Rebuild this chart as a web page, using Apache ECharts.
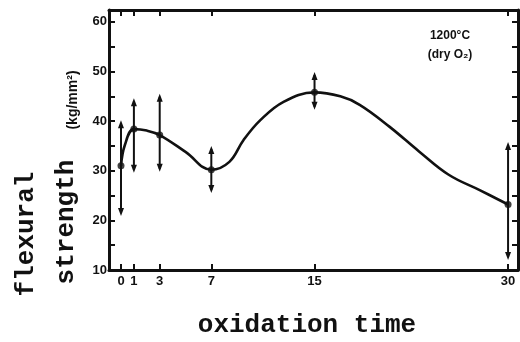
<!DOCTYPE html>
<html>
<head>
<meta charset="utf-8">
<script src="https://cdn.jsdelivr.net/npm/echarts@6/dist/echarts.min.js"></script>
<style>html,body{margin:0;padding:0;background:#fff;}#c{width:520px;height:342px;}</style>
</head>
<body>
<div id="c"></div>
<script>
// measured points (oxidation time, flexural strength kg/mm2)
const times = [0, 1, 3, 7, 15, 30];
const strength = [31.0, 38.4, 37.2, 30.2, 45.8, 23.2];
const errLow = [21.5, 30.2, 30.4, 26.1, 42.9, 12.6];
const errHigh = [39.6, 44.0, 44.9, 34.4, 49.3, 35.2];
// fitted curve as drawn
const curveX = [0, 0.3, 1, 2, 3, 5, 7, 8.4, 9.5, 10.8, 12.6, 15, 17.0, 18.5, 20.8, 23.1, 25.4, 27.8, 30];
const curveY = [31.0, 35.2, 38.4, 38.1, 37.2, 33.8, 30.2, 31.8, 36.2, 40.2, 43.9, 45.8, 45.0, 43.3, 38.9, 33.9, 29.2, 26.1, 23.2];
// tick labels
const xTicks = [0, 1, 3, 7, 15, 30];
const yTicks = [10, 20, 30, 40, 50, 60];

const ink = '#111';
const chart = echarts.init(document.getElementById('c'));
const xBase = {
  type: 'value', min: -0.93, max: 30.77,
  axisLine: {show: true, onZero: false, lineStyle: {color: ink, width: 3}},
  axisTick: {show: true, inside: true, length: 6, customValues: xTicks, lineStyle: {color: ink, width: 2}},
  splitLine: {show: false}
};
const yBase = {
  type: 'value', min: 10, max: 62.4, interval: 5,
  axisLine: {show: true, onZero: false, lineStyle: {color: ink, width: 3}},
  axisTick: {show: true, inside: true, length: 6, lineStyle: {color: ink, width: 2}},
  splitLine: {show: false}
};
chart.setOption({
  animation: false,
  backgroundColor: '#fff',
  grid: {left: 109, right: 2, top: 10, bottom: 72},
  xAxis: [
    Object.assign({}, xBase, {position: 'bottom',
      axisLabel: {customValues: xTicks, color: ink, fontFamily: 'Liberation Sans', fontWeight: 'bold', fontSize: 13, margin: 5}}),
    Object.assign({}, xBase, {position: 'top', axisLabel: {show: false}})
  ],
  yAxis: [
    Object.assign({}, yBase, {position: 'left',
      axisLabel: {color: ink, fontFamily: 'Liberation Sans', fontWeight: 'bold', fontSize: 13, margin: 2,
        showMaxLabel: false,
        formatter: v => yTicks.indexOf(v) >= 0 ? String(v) : ''}}),
    Object.assign({}, yBase, {position: 'right', axisLabel: {show: false}})
  ],
  series: [
    {
      type: 'line', smooth: 0.4, symbol: 'none',
      data: curveX.map((x, i) => [x, curveY[i]]),
      lineStyle: {color: ink, width: 2.6}
    },
    {
      type: 'custom',
      data: times.map((t, i) => [t, errLow[i], errHigh[i]]),
      renderItem: function (params, api) {
        const lo = api.coord([api.value(0), api.value(1)]);
        const hi = api.coord([api.value(0), api.value(2)]);
        const x = lo[0];
        return {
          type: 'group',
          children: [
            {type: 'line', shape: {x1: x, y1: hi[1], x2: x, y2: lo[1]}, style: {stroke: ink, lineWidth: 2}},
            {type: 'polygon', shape: {points: [[x, hi[1] - 3], [x - 3, hi[1] + 5], [x + 3, hi[1] + 5]]}, style: {fill: ink}},
            {type: 'polygon', shape: {points: [[x, lo[1] + 3], [x - 3, lo[1] - 5], [x + 3, lo[1] - 5]]}, style: {fill: ink}}
          ]
        };
      }
    },
    {
      type: 'scatter', symbol: 'circle', symbolSize: 7,
      data: times.map((t, i) => [t, strength[i]]),
      itemStyle: {color: ink}
    }
  ],
  graphic: [
    {type: 'text', x: 39, y: 234, rotation: Math.PI / 2,
      style: {text: 'flexural', font: 'bold 26px "Liberation Mono"', fill: ink, align: 'center', verticalAlign: 'bottom'}},
    {type: 'text', x: 79, y: 222, rotation: Math.PI / 2,
      style: {text: 'strength', font: 'bold 26px "Liberation Mono"', fill: ink, align: 'center', verticalAlign: 'bottom'}},
    {type: 'text', x: 80, y: 100, rotation: Math.PI / 2,
      style: {text: '(kg/mm²)', font: 'bold 14px "Liberation Sans"', fill: ink, align: 'center', verticalAlign: 'bottom'}},
    {type: 'text', x: 307, y: 338,
      style: {text: 'oxidation time', font: 'bold 26px "Liberation Mono"', fill: ink, align: 'center', verticalAlign: 'bottom'}},
    {type: 'text', x: 450, y: 36,
      style: {text: '1200°C', font: 'bold 12px "Liberation Sans"', fill: ink, align: 'center', verticalAlign: 'middle'}},
    {type: 'text', x: 450, y: 55,
      style: {text: '(dry O₂)', font: 'bold 12px "Liberation Sans"', fill: ink, align: 'center', verticalAlign: 'middle'}}
  ]
});
</script>
</body>
</html>
